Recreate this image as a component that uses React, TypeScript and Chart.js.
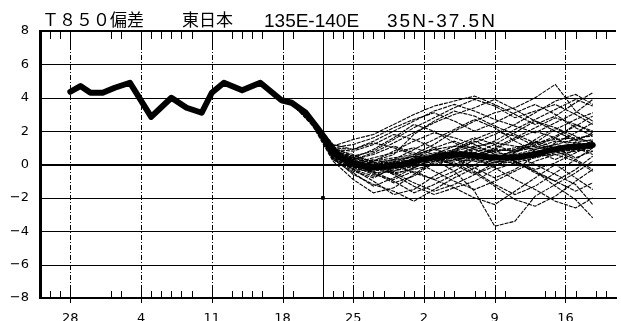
import { useEffect, useRef } from "react";
import { Chart, registerables } from "chart.js";

Chart.register(...registerables);

// ---- Title ----
const titleJa1 = "Ｔ８５０偏差";
const titleJa2 = "東日本";
const titleLon = "135E-140E";
const titleLat = "35N-37.5N";

// ---- X axis (days from the first labelled date) ----
const xMin = -3;
const xMax = 54;
const weekDays = [0, 7, 14, 21, 28, 35, 42, 49];
const weekLabels = ["28", "4", "11", "18", "25", "2", "9", "16"];
const minorTickDays = [-2, -1, 4, 5, 8, 9, 10, 11, 12, 16, 17, 18, 19, 22, 26, 27, 29, 30, 31, 33, 34, 36, 37, 38, 40, 41, 43, 47, 48, 50, 52, 53];
const initialDay = 25;

// ---- Y axis ----
const yMin = -8;
const yMax = 8;
const yStep = 2;

// ---- Analysis / ensemble mean (thick line) ----
const meanDays = [0, 1, 2, 3.2, 4.4, 5.9, 8, 10, 11.5, 13, 14, 15.2, 17, 18.8, 20.9, 21.9, 23.3, 24.5, 25.8, 26.8, 28.2, 29.7, 31.4, 33.1, 34.6, 36.3, 38.2, 39.6, 41.2, 42.8, 44.4, 46, 47.6, 49.3, 50.9, 51.7];
const meanValues = [4.36, 4.7, 4.3, 4.3, 4.6, 4.9, 2.85, 4.0, 3.4, 3.1, 4.3, 4.9, 4.45, 4.9, 3.85, 3.7, 3.1, 2.15, 1.07, 0.4, 0.0, -0.2, -0.1, 0.0, 0.27, 0.47, 0.6, 0.55, 0.45, 0.4, 0.45, 0.6, 0.87, 1.05, 1.1, 1.17];

// ---- Isolated observation mark ----
const markDays = [25];
const markValues = [-2.0];

// ---- Ensemble members (thin lines) ----
const memberDays = [22, 24, 26, 28, 30, 32, 34, 36, 38, 40, 42, 44, 46, 48, 50, 51.7];
const m01 = [3.7, 2.6, 1.0, 0.5, 0.8, 1.5, 2.2, 2.8, 3.4, 3.9, 3.5, 2.8, 3.2, 3.6, 3.0, 2.4];
const m02 = [3.6, 2.4, 0.4, -0.6, -1.2, -1.6, -2.2, -1.5, -0.8, -0.2, 0.3, 0.9, 1.4, 1.0, 0.4, 0.8];
const m03 = [3.7, 2.5, 0.6, 0.0, -0.3, 0.2, 0.5, 0.3, -0.4, -1.6, -3.7, -3.4, -1.9, -1.2, -0.5, 0.2];
const m04 = [3.6, 2.7, 1.2, 0.9, 1.3, 1.0, 0.6, 1.2, 2.0, 2.6, 3.1, 3.4, 4.0, 4.8, 3.2, 2.6];
const m05 = [3.7, 2.5, 0.5, -0.2, 0.2, 0.8, 1.4, 1.9, 1.6, 1.2, 0.6, 0.2, -0.4, -1.3, -2.1, -3.2];
const m06 = [3.8, 2.7, 1.1, 1.5, 1.8, 2.4, 3.0, 3.5, 3.8, 4.1, 3.6, 3.0, 2.4, 2.9, 3.7, 4.3];
const m07 = [3.6, 2.3, 0.2, -0.9, -1.7, -1.4, -0.6, 0.2, 0.9, 1.5, 2.0, 1.7, 1.1, 1.6, 2.4, 2.0];
const m08 = [3.7, 2.5, 0.7, 0.2, 0.0, -0.5, -1.1, -1.6, -1.2, -0.6, 0.1, 0.7, 1.3, 2.1, 2.7, 3.1];
const m09 = [3.6, 2.4, 0.5, 0.3, 0.6, 1.1, 0.7, 0.3, 0.8, 1.4, 0.9, 0.2, -0.5, -1.0, -0.3, 0.5];
const m10 = [3.7, 2.6, 0.9, 0.6, 0.1, -0.6, -1.3, -1.8, -1.4, -2.0, -2.4, -1.6, -0.8, 0.0, -0.8, -1.5];
const m11 = [3.7, 2.6, 0.8, 0.4, 0.9, 1.6, 2.4, 2.0, 1.3, 0.7, 1.2, 1.9, 2.6, 2.2, 1.5, 1.8];
const m12 = [3.6, 2.4, 0.3, -0.4, -0.8, -0.2, 0.4, 0.9, 0.5, -0.2, -0.8, -0.3, 0.5, 1.3, 1.9, 2.5];
const m13 = [3.7, 2.5, 0.6, 0.1, -0.5, -1.1, -0.7, 0.1, 0.6, 1.0, 1.4, 2.1, 2.7, 3.3, 3.9, 3.5];
const m14 = [3.7, 2.6, 0.9, 0.8, 1.2, 1.8, 1.5, 1.0, 0.4, -0.4, -1.2, -1.8, -1.3, -0.5, 0.3, 1.0];
const m15 = [3.6, 2.5, 0.5, 0.0, 0.3, 0.0, -0.5, -0.9, -0.4, 0.3, 0.9, 1.5, 2.0, 1.6, 1.0, 0.6];
const m16 = [3.7, 2.4, 0.4, -0.3, -1.0, -1.8, -1.5, -0.7, -0.1, 0.4, -0.2, -0.9, -1.5, -2.2, -2.6, -2.0];
const m17 = [3.7, 2.6, 1.0, 1.2, 1.6, 2.2, 2.7, 3.1, 2.6, 2.0, 2.5, 3.1, 3.6, 3.0, 2.2, 1.7];
const m18 = [3.6, 2.5, 0.7, 0.2, -0.3, 0.3, 0.9, 1.5, 2.1, 2.7, 2.2, 1.4, 0.8, 0.3, 0.9, 1.4];
const m19 = [3.7, 2.4, 0.5, -0.1, -0.6, -0.9, -0.4, -0.9, -1.4, -1.0, -0.3, 0.1, -0.4, -1.0, -1.6, -1.1];
const m20 = [3.7, 2.5, 0.6, 0.1, 0.4, 0.7, 1.0, 0.6, 0.9, 1.3, 1.8, 2.4, 3.1, 3.8, 4.2, 3.6];
const m21 = [3.6, 2.6, 0.8, 0.5, 0.2, 0.6, 1.8, 2.6, 3.2, 2.9, 2.3, 1.8, 1.3, 0.8, 0.3, -0.3];
const m22 = [3.7, 2.5, 0.6, -0.3, -0.7, -0.3, 0.2, -0.4, -1.0, -1.5, -1.0, -0.4, 0.2, 0.6, 0.2, -0.4];
const m23 = [3.7, 2.6, 0.9, 0.3, -0.2, 0.1, 0.5, 1.0, 1.4, 0.9, 0.4, 0.8, 1.2, 1.7, 2.3, 2.9];
const m24 = [3.6, 2.4, 0.4, -0.1, -0.4, -1.0, -1.7, -1.2, -0.6, 0.0, 0.6, 0.2, -0.3, 0.1, 0.7, 1.2];
const m25 = [3.7, 2.5, 0.7, 0.3, 0.7, 1.3, 1.9, 2.5, 3.0, 3.4, 3.9, 3.3, 2.6, 2.0, 1.4, 1.9];
const m26 = [3.7, 2.6, 0.8, 0.0, -0.3, 0.2, -0.2, 0.4, 0.1, -0.5, -1.3, -2.1, -2.5, -1.9, -1.0, -0.3];
const m27 = [3.6, 2.5, 0.6, 0.4, 0.0, -0.4, 0.1, 0.6, 1.1, 1.6, 1.2, 0.7, 1.5, 2.2, 1.7, 1.2];
const m28 = [3.7, 2.4, 0.3, -0.5, -1.3, -0.8, -0.2, 0.3, 0.0, 0.5, 1.0, 1.6, 2.2, 2.8, 2.4, 1.9];
const m29 = [3.7, 2.6, 1.0, 0.9, 1.4, 2.0, 2.6, 3.2, 3.6, 3.2, 2.7, 2.3, 1.9, 2.5, 3.1, 3.9];
const m30 = [3.6, 2.5, 0.6, 0.2, -0.1, -0.6, -0.2, 0.4, 0.0, -0.6, -0.1, 0.5, 0.0, -0.6, -1.2, -2.4];
const m31 = [3.7, 2.5, 0.7, 0.1, -0.2, 0.0, 0.3, 0.6, 0.8, 0.7, 0.5, 0.4, 0.7, 1.0, 1.2, 1.3];
const m32 = [3.6, 2.4, 0.5, -0.1, -0.3, -0.2, 0.1, 0.4, 0.5, 0.6, 0.3, 0.5, 0.8, 0.9, 1.1, 1.0];
const m33 = [3.7, 2.6, 0.7, 0.2, 0.0, 0.3, 0.5, 0.3, 0.6, 0.9, 0.7, 0.6, 0.9, 1.2, 1.0, 1.4];
const m34 = [3.7, 2.5, 0.6, -0.2, -0.5, -0.4, -0.1, 0.2, 0.4, 0.3, 0.1, 0.3, 0.6, 0.8, 1.3, 1.5];
const m35 = [3.6, 2.5, 0.8, 0.3, 0.1, 0.0, 0.2, 0.5, 0.3, 0.5, 0.8, 0.9, 1.1, 0.8, 0.9, 1.2];
const m36 = [3.7, 2.4, 0.4, -0.3, -0.4, -0.1, 0.4, 0.7, 0.6, 0.4, 0.2, 0.1, 0.4, 0.7, 0.9, 0.8];
const m37 = [3.7, 2.6, 0.9, 0.4, 0.2, 0.4, 0.6, 0.9, 1.1, 1.0, 0.8, 1.0, 1.3, 1.5, 1.6, 1.7];
const m38 = [3.6, 2.5, 0.6, 0.0, -0.3, -0.5, -0.3, 0.0, 0.3, 0.2, 0.0, 0.2, 0.5, 0.6, 0.8, 1.0];
const m39 = [3.7, 2.5, 0.5, -0.1, 0.1, 0.3, 0.2, 0.5, 0.8, 1.1, 1.3, 1.1, 0.9, 1.2, 1.5, 1.4];
const m40 = [3.7, 2.6, 0.8, 0.2, -0.1, 0.1, 0.3, 0.4, 0.2, 0.6, 0.9, 0.8, 1.0, 1.4, 1.3, 1.1];
const members = [m01, m02, m03, m04, m05, m06, m07, m08, m09, m10, m11, m12, m13, m14, m15, m16, m17, m18, m19, m20, m21, m22, m23, m24, m25, m26, m27, m28, m29, m30, m31, m32, m33, m34, m35, m36, m37, m38, m39, m40];

const toPoints = (xs: number[], ys: number[]) => xs.map((x, i) => ({ x, y: ys[i] }));

const decorPlugin = {
  id: "decor",
  beforeDatasetsDraw(chart: any) {
    const { ctx, chartArea, scales } = chart;
    const x = scales.x;
    const y = scales.y;
    const top = chartArea.top;
    const bottom = chartArea.bottom;
    const left = chartArea.left;
    const right = chartArea.right;
    ctx.save();
    ctx.strokeStyle = "#000";
    // horizontal grid lines
    y.ticks.forEach((t: any) => {
      const v = t.value;
      const py = Math.round(y.getPixelForValue(v));
      const heavy = v === 0 || v === yMax || v === yMin;
      ctx.lineWidth = heavy ? 2 : 1;
      ctx.beginPath();
      ctx.moveTo(left, heavy ? py : py + 0.5);
      ctx.lineTo(right, heavy ? py : py + 0.5);
      ctx.stroke();
    });
    ctx.lineWidth = 1;
    // weekly dashed lines
    weekDays.forEach((d) => {
      const px = Math.round(x.getPixelForValue(d)) + 0.5;
      ctx.setLineDash([5, 2, 1, 2]);
      ctx.beginPath();
      ctx.moveTo(px, top + 14);
      ctx.lineTo(px, bottom - 8);
      ctx.stroke();
      ctx.setLineDash([]);
      ctx.beginPath();
      ctx.moveTo(px, top);
      ctx.lineTo(px, top + 14);
      ctx.moveTo(px, bottom - 8);
      ctx.lineTo(px, bottom + 5);
      ctx.stroke();
    });
    // minor ticks top & bottom
    ctx.setLineDash([]);
    minorTickDays.forEach((d) => {
      const px = Math.round(x.getPixelForValue(d)) + 0.5;
      ctx.beginPath();
      ctx.moveTo(px, top);
      ctx.lineTo(px, top + 8);
      ctx.moveTo(px, bottom);
      ctx.lineTo(px, bottom - 7);
      ctx.stroke();
    });
    // initial-time solid line
    const pi = Math.round(x.getPixelForValue(initialDay)) + 0.5;
    ctx.beginPath();
    ctx.moveTo(pi, top);
    ctx.lineTo(pi, bottom);
    ctx.stroke();
    ctx.restore();
  },
  afterDraw(chart: any) {
    const { ctx } = chart;
    ctx.save();
    ctx.fillStyle = "#000";
    ctx.textBaseline = "alphabetic";
    ctx.font = '17px "Noto Sans CJK JP"';
    ctx.fillText(titleJa1, 42, 26);
    ctx.fillText(titleJa2, 182, 26);
    ctx.font = '19px "Liberation Sans"';
    ctx.fillText(titleLon, 264, 27);
    (ctx as any).letterSpacing = "2px";
    ctx.fillText(titleLat, 387, 27);
    ctx.restore();
  },
};

export default function App() {
  const canvasRef = useRef<HTMLCanvasElement | null>(null);

  useEffect(() => {
    const canvas = canvasRef.current;
    if (!canvas) return;

    const memberSets = members.map((m, i) => ({
      label: "member " + (i + 1),
      data: toPoints(memberDays, m),
      borderColor: "#000",
      borderWidth: 1.1,
      borderDash: [4, 1],
      pointRadius: 0,
      tension: 0,
      fill: false,
      order: 3,
    }));

    const chart = new Chart(canvas, {
      type: "line",
      data: {
        datasets: [
          {
            label: "mean",
            data: toPoints(meanDays, meanValues),
            borderColor: "#000",
            borderWidth: 6,
            borderJoinStyle: "round",
            borderCapStyle: "round",
            pointRadius: 0,
            tension: 0,
            fill: false,
            order: 1,
          },
          {
            label: "mark",
            data: toPoints(markDays, markValues),
            showLine: false,
            pointStyle: "rect",
            pointRadius: 2,
            backgroundColor: "#000",
            borderColor: "#000",
            borderWidth: 1,
            order: 0,
          },
          ...memberSets,
        ],
      },
      options: {
        responsive: false,
        animation: false,
        layout: { padding: { top: 31, right: 1, left: 0, bottom: 0 } },
        plugins: {
          legend: { display: false },
          title: { display: false },
          tooltip: { enabled: false },
        },
        scales: {
          x: {
            type: "linear",
            min: xMin,
            max: xMax,
            afterBuildTicks: (scale: any) => {
              scale.ticks = weekDays.map((v) => ({ value: v }));
            },
            afterFit: (scale: any) => {
              scale.height = 23;
            },
            ticks: {
              autoSkip: false,
              maxRotation: 0,
              padding: 5,
              color: "#000",
              font: { family: "DejaVu Sans", size: 13 },
              callback: (v: any) => {
                const i = weekDays.indexOf(Number(v));
                return i >= 0 ? weekLabels[i] : "";
              },
            },
            grid: { display: false },
            border: { display: true, color: "#000", width: 2 },
          },
          y: {
            type: "linear",
            min: yMin,
            max: yMax,
            afterFit: (scale: any) => {
              scale.width = 40;
            },
            ticks: {
              stepSize: yStep,
              padding: 3,
              color: "#000",
              font: { family: "DejaVu Sans", size: 13 },
              callback: (v: any) => {
                const n = Number(v);
                return n < 0 ? "\u2212" + Math.abs(n) : String(n);
              },
            },
            grid: { display: false },
            border: { display: true, color: "#000", width: 3 },
          },
        },
      },
      plugins: [decorPlugin],
    } as any);

    return () => chart.destroy();
  }, []);

  return (
    <div style={{ position: "fixed", left: 0, top: 0, width: 621, height: 321, background: "#fff" }}>
      <canvas ref={canvasRef} width={621} height={321} />
    </div>
  );
}
